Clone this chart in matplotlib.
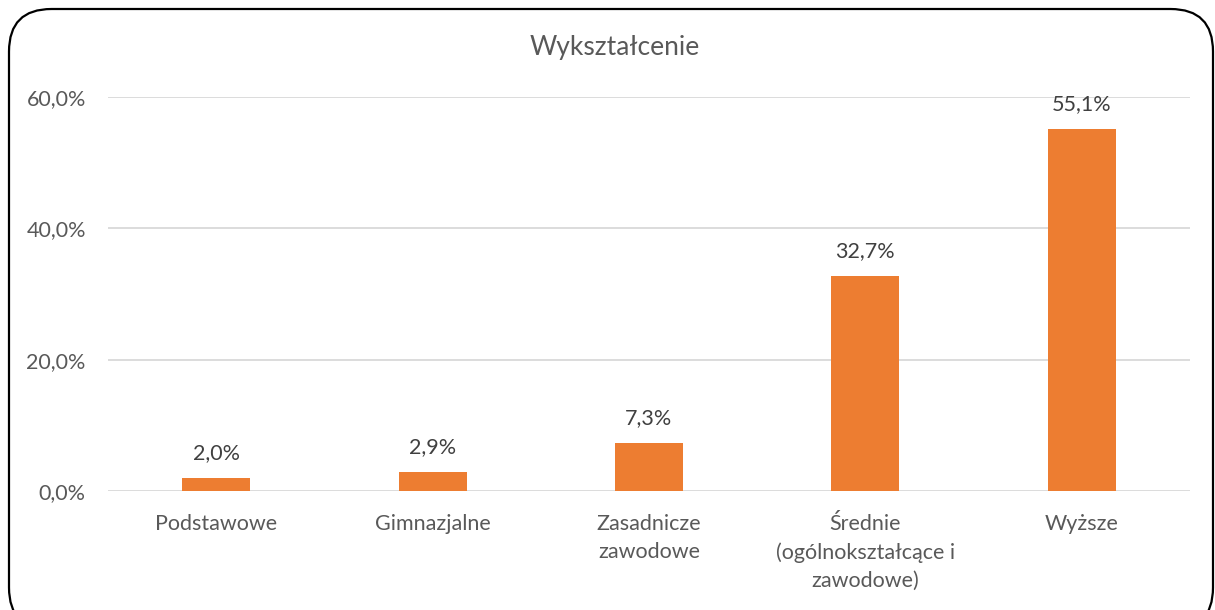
import matplotlib.pyplot as plt
from matplotlib.patches import FancyBboxPatch

plt.rcParams['font.family'] = ['Lato', 'DejaVu Sans']

# Dane
kategorie = ['Podstawowe', 'Gimnazjalne', 'Zasadnicze\nzawodowe',
             'Średnie\n(ogólnokształcące i\nzawodowe)', 'Wyższe']
wartosci = [2.0, 2.9, 7.3, 32.7, 55.1]
yticks = [0, 20, 40, 60]

szary = '#595959'
pomaranczowy = '#ED7D31'

W, H = 1215, 610
fig = plt.figure(figsize=(W / 100, H / 100), dpi=100)

# Obramowanie wykresu (zaokrąglone rogi)
ramka = FancyBboxPatch((9 / W, -20 / H), (1213 - 9) / W, (H - 9 + 20) / H,
                       boxstyle='round,pad=0,rounding_size=0.035',
                       transform=fig.transFigure, fill=False,
                       edgecolor='black', linewidth=1.6, mutation_aspect=W / H)
fig.patches.append(ramka)

ax = fig.add_axes([108 / W, (H - 491) / H, (1190 - 108) / W, (491 - 97) / H])
x = range(len(kategorie))
ax.bar(x, wartosci, width=0.315, color=pomaranczowy, zorder=3)

for xi, v in zip(x, wartosci):
    ax.annotate(f'{v:.1f}%'.replace('.', ','), (xi, v), xytext=(0, 18),
                textcoords='offset points', ha='center', va='center',
                fontsize=15.5, color='#404040')

ax.set_xlim(-0.5, len(kategorie) - 0.5)
ax.set_ylim(0, 60)
ax.set_yticks(yticks)
ax.set_yticklabels([f'{t:.1f}%'.replace('.', ',') for t in yticks])
ax.set_xticks(list(x))
ax.set_xticklabels(kategorie, linespacing=1.5)
ax.tick_params(axis='both', length=0, labelsize=15.5, colors=szary)
ax.tick_params(axis='y', pad=16)
ax.tick_params(axis='x', pad=16.5)
ax.grid(axis='y', color='#D9D9D9', linewidth=1.3, zorder=0)
for s in ax.spines.values():
    s.set_visible(False)

fig.text(615 / W, (H - 47) / H, 'Wykształcenie', ha='center', va='center',
         fontsize=19, color=szary)

fig.savefig('out.png', dpi=100)
